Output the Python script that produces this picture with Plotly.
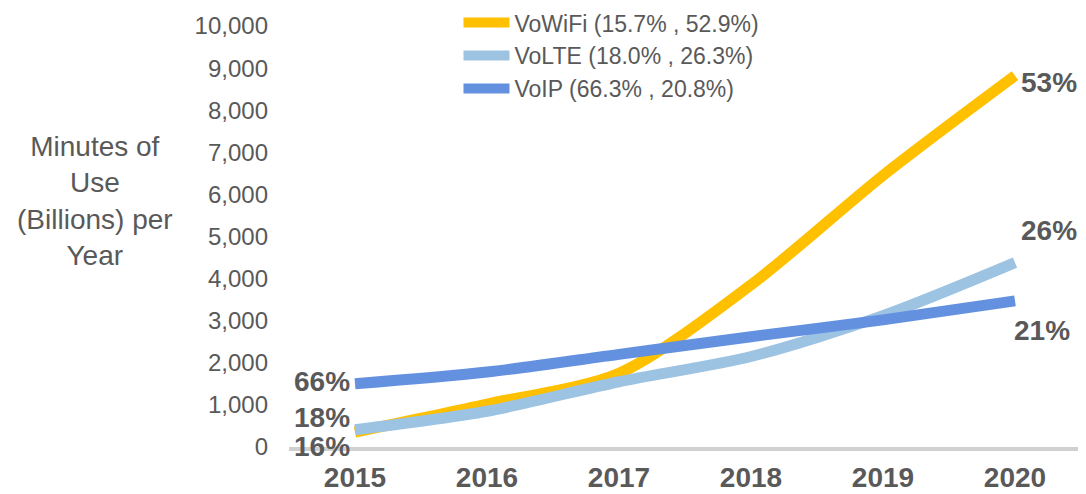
import plotly.graph_objects as go

years = ["2015", "2016", "2017", "2018", "2019", "2020"]
series_names = ["VoWiFi", "VoLTE", "VoIP"]
vowifi = [355, 1020, 1750, 3850, 6450, 8820]
volte = [410, 850, 1550, 2150, 3120, 4380]
voip = [1500, 1780, 2200, 2620, 3020, 3470]
share_2015 = [15.7, 18.0, 66.3]
share_2020 = [52.9, 26.3, 20.8]
y_ticks = [0, 1000, 2000, 3000, 4000, 5000, 6000, 7000, 8000, 9000, 10000]

colors = ["#FFC000", "#9DC3E2", "#6391E0"]
values = [vowifi, volte, voip]
FONT = "Arial, Liberation Sans, sans-serif"
GREY = "#595959"

fig = go.Figure()
for name, vals, col, s0, s1 in zip(series_names, values, colors, share_2015, share_2020):
    fig.add_trace(go.Scatter(
        x=years, y=vals, mode="lines",
        name=f"{name} ({s0:.1f}% , {s1:.1f}%)",
        line=dict(color=col, width=11, shape="spline", smoothing=0.8),
        hoverinfo="x+y+name",
    ))

# data labels (start / end shares)
start_shift = [-14, 12, 2]   # VoWiFi, VoLTE, VoIP
end_shift = [-7, 32, -30]
end_x = [4, 4, -3]
first_idx = 0
last_idx = len(years) - 1
for i, vals in enumerate(values):
    fig.add_annotation(x=first_idx, y=vals[0], text=f"<b>{round(share_2015[i])}%</b>",
                       showarrow=False, xanchor="right", yanchor="middle",
                       xshift=-3, yshift=start_shift[i],
                       font=dict(size=28, color=GREY, family=FONT))
    fig.add_annotation(x=last_idx, y=vals[-1], text=f"<b>{round(share_2020[i])}%</b>",
                       showarrow=False, xanchor="left", yanchor="middle",
                       xshift=end_x[i], yshift=end_shift[i],
                       font=dict(size=28, color=GREY, family=FONT))

# y-axis title
fig.add_annotation(xref="paper", yref="paper", x=-0.245, y=0.585,
                   text="Minutes of<br>Use<br>(Billions) per<br>Year",
                   showarrow=False, xanchor="center", yanchor="middle", align="center",
                   font=dict(size=28, color=GREY, family=FONT))

fig.update_layout(
    width=1086, height=494,
    margin=dict(l=281, r=13, t=18, b=55, autoexpand=False),
    paper_bgcolor="white", plot_bgcolor="white",
    font=dict(family=FONT, color=GREY),
    showlegend=True,
    legend=dict(
        x=0.214, y=1.059, xanchor="left", yanchor="top",
        font=dict(size=23, color=GREY, family=FONT),
        itemwidth=46, tracegroupgap=0,
        bgcolor="rgba(255,255,255,0)",
    ),
    xaxis=dict(
        type="category", categoryorder="array", categoryarray=years,
        range=[-0.5, 5.5], showgrid=False, zeroline=False,
        showline=True, linecolor="#D0D0D0", linewidth=4,
        ticks="", tickfont=dict(size=28, color=GREY, family=FONT, weight="bold"),
        ticklabelstandoff=2, automargin=False,
    ),
    yaxis=dict(
        range=[0, 10000], tickvals=y_ticks, tickformat=",d",
        showgrid=False, zeroline=False, showline=False, ticks="",
        tickfont=dict(size=24, color=GREY, family=FONT),
        ticklabelstandoff=20, automargin=False,
    ),
)

fig.write_html("out.html")
